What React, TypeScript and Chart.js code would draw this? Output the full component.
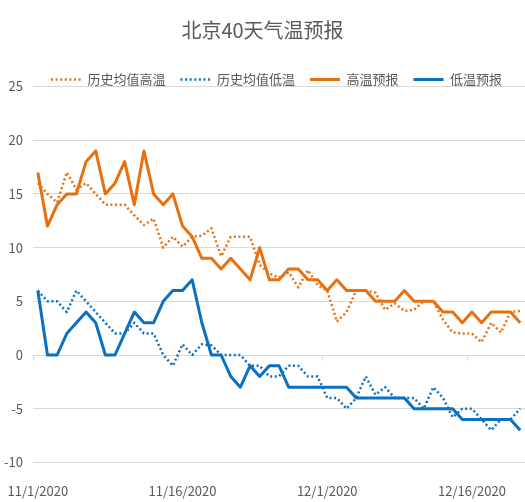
import { useEffect, useRef } from 'react';
import { Chart, registerables } from 'chart.js';

Chart.register(...registerables);

const dates = [
  '11/1/2020', '11/2/2020', '11/3/2020', '11/4/2020', '11/5/2020', '11/6/2020', '11/7/2020', '11/8/2020', '11/9/2020', '11/10/2020',
  '11/11/2020', '11/12/2020', '11/13/2020', '11/14/2020', '11/15/2020', '11/16/2020', '11/17/2020', '11/18/2020', '11/19/2020', '11/20/2020',
  '11/21/2020', '11/22/2020', '11/23/2020', '11/24/2020', '11/25/2020', '11/26/2020', '11/27/2020', '11/28/2020', '11/29/2020', '11/30/2020',
  '12/1/2020', '12/2/2020', '12/3/2020', '12/4/2020', '12/5/2020', '12/6/2020', '12/7/2020', '12/8/2020', '12/9/2020', '12/10/2020',
  '12/11/2020', '12/12/2020', '12/13/2020', '12/14/2020', '12/15/2020', '12/16/2020', '12/17/2020', '12/18/2020', '12/19/2020', '12/20/2020',
  '12/21/2020',
];

const histHigh = [
  16, 15, 14.2, 17, 15.4, 16, 15, 14, 14, 14,
  13, 12.1, 12.7, 10, 11, 10.1, 11, 11.1, 11.8, 9.2,
  11, 11, 11, 8.4, 7.6, 7.2, 7.7, 6.3, 7.9, 6.5,
  6, 3.1, 4, 6, 6, 5.8, 4.2, 4.8, 4.1, 4.2,
  5, 5, 3.3, 2.1, 2, 2, 1.2, 3, 2.1, 4,
  4.1,
];

const histLow = [
  6, 5, 5, 4, 6, 5, 4, 3, 2, 2,
  3, 2, 2, 0, -1, 1, 0, 1, 0.9, 0,
  0, 0, -1, -1, -2, -2, -1, -1, -2, -2,
  -4, -4, -5, -4, -2, -3.7, -3, -4, -4, -4,
  -5, -3, -4, -5.8, -5, -5, -6, -7, -6, -6,
  -5,
];

const fcHigh = [
  17, 12, 14, 15, 15, 18, 19, 15, 16, 18,
  14, 19, 15, 14, 15, 12, 11, 9, 9, 8,
  9, 8, 7, 10, 7, 7, 8, 8, 7, 7,
  6, 7, 6, 6, 6, 5, 5, 5, 6, 5,
  5, 5, 4, 4, 3, 4, 3, 4, 4, 4,
  3,
];

const fcLow = [
  6, 0, 0, 2, 3, 4, 3, 0, 0, 2,
  4, 3, 3, 5, 6, 6, 7, 3, 0, 0,
  -2, -3, -1, -2, -1, -1, -3, -3, -3, -3,
  -3, -3, -3, -4, -4, -4, -4, -4, -4, -5,
  -5, -5, -5, -5, -6, -6, -6, -6, -6, -6,
  -7,
];

const seriesNames = ['历史均值高温', '历史均值低温', '高温预报', '低温预报'];
const titleText = '北京40天气温预报';
const yMin = -10;
const yMax = 25;
const yStep = 5;
const labelEvery = 15;

const ORANGE = '#E8700F';
const BLUE = '#0A70C2';
const TEXT = '#595959';
const GRID = '#D9D9D9';
const FONT = "'Noto Sans CJK SC', 'Noto Sans', sans-serif";

export default function App() {
  const ref = useRef<HTMLCanvasElement>(null);

  useEffect(() => {
    document.body.style.margin = '0';
    if (!ref.current) return;

    const zeroAxis = {
      id: 'zeroAxis',
      beforeDatasetsDraw(chart: any) {
        const { ctx, chartArea, scales } = chart;
        const x = scales.x;
        const y = scales.y;
        const y0 = Math.round(y.getPixelForValue(0)) + 0.5;
        ctx.save();
        ctx.strokeStyle = GRID;
        ctx.lineWidth = 1;
        ctx.beginPath();
        ctx.moveTo(chartArea.left, y0);
        ctx.lineTo(chartArea.right, y0);
        for (let i = 0; i < dates.length; i += labelEvery) {
          const px = i === 0 ? chartArea.left : (x.getPixelForValue(i - 1) + x.getPixelForValue(i)) / 2;
          const xx = Math.round(px) + 0.5;
          ctx.moveTo(xx, y0);
          ctx.lineTo(xx, y0 + 5);
        }
        ctx.stroke();
        ctx.restore();
      },
    };

    const legendTweak = {
      id: 'legendTweak',
      beforeLayout(chart: any) {
        const lg = chart.legend;
        if (lg && !lg.__trimmed) {
          const orig = lg.fit.bind(lg);
          lg.fit = () => {
            orig();
            lg.height = Math.max(0, lg.height - 9.5);
          };
          lg.__trimmed = true;
        }
      },
      afterLayout(chart: any) {
        const lg = chart.legend;
        if (lg) {
          lg.left += 14;
          lg.right += 14;
        }
      },
    };

    const dotted = [2, 2.6];

    const chart = new Chart(ref.current, {
      type: 'line',
      data: {
        labels: dates,
        datasets: [
          { label: seriesNames[0], data: histHigh, borderColor: ORANGE, backgroundColor: ORANGE, borderWidth: 2.5, borderDash: dotted, order: 2 },
          { label: seriesNames[1], data: histLow, borderColor: BLUE, backgroundColor: BLUE, borderWidth: 2.5, borderDash: dotted, order: 2 },
          { label: seriesNames[2], data: fcHigh, borderColor: ORANGE, backgroundColor: ORANGE, borderWidth: 3, order: 1 },
          { label: seriesNames[3], data: fcLow, borderColor: BLUE, backgroundColor: BLUE, borderWidth: 3, order: 1 },
        ] as any,
      },
      options: {
        animation: false,
        responsive: false,
        maintainAspectRatio: false,
        layout: { padding: { left: 0, right: 0, top: 0, bottom: 3 } },
        elements: {
          point: { radius: 0, hoverRadius: 0 },
          line: { tension: 0, fill: false, borderJoinStyle: 'round' },
        },
        plugins: {
          tooltip: { enabled: false },
          title: {
            display: true,
            text: titleText,
            color: TEXT,
            font: { size: 20, family: FONT, weight: 'normal' },
            padding: { top: 18, bottom: 16 },
          },
          legend: {
            display: true,
            position: 'top',
            labels: {
              usePointStyle: true,
              pointStyle: 'line',
              pointStyleWidth: 30,
              boxHeight: 13,
              padding: 15,
              color: TEXT,
              font: { size: 13, family: FONT },
              generateLabels: (c: any) =>
                c.data.datasets.map((ds: any, i: number) => ({
                  text: ds.label,
                  fillStyle: ds.borderColor,
                  strokeStyle: ds.borderColor,
                  lineWidth: ds.borderWidth,
                  lineDash: ds.borderDash || [],
                  lineCap: 'butt',
                  pointStyle: 'line',
                  hidden: false,
                  datasetIndex: i,
                  fontColor: TEXT,
                })),
            },
          },
        },
        scales: {
          x: {
            type: 'category',
            offset: true,
            grid: { display: false, drawTicks: true, tickLength: 21 },
            border: { display: false },
            ticks: {
              autoSkip: false,
              maxRotation: 0,
              minRotation: 0,
              padding: 0,
              color: TEXT,
              font: { size: 13, family: FONT },
              callback: (_v: any, i: number) => (i % labelEvery === 0 ? dates[i] : ''),
            },
          },
          y: {
            min: yMin,
            max: yMax,
            grid: { color: GRID, drawTicks: false, lineWidth: 1 },
            border: { display: false },
            afterFit: (scale: any) => {
              scale.width = 33;
            },
            ticks: {
              stepSize: yStep,
              padding: 10,
              color: TEXT,
              font: { size: 13, family: FONT },
            },
          },
        },
      } as any,
      plugins: [zeroAxis, legendTweak],
    });

    return () => chart.destroy();
  }, []);

  return (
    <div style={{ width: 525, height: 502 }}>
      <canvas ref={ref} width={525} height={502} style={{ display: 'block' }} />
    </div>
  );
}
